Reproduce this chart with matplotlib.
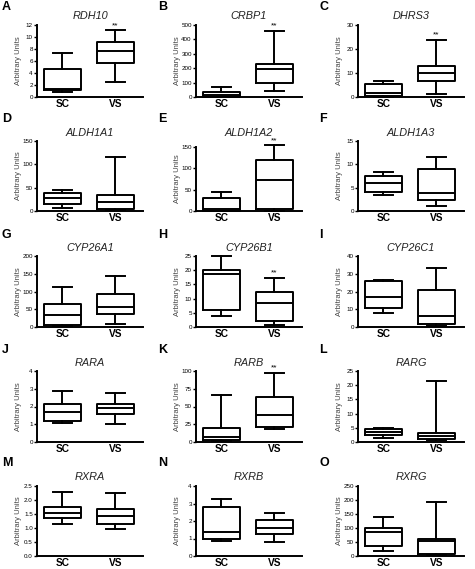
import matplotlib
matplotlib.use('Agg')
import matplotlib.pyplot as plt
import numpy as np

plt.rcParams['font.family'] = ['Liberation Sans', 'DejaVu Sans']

# gene panels, read row by row
genes = ['RDH10', 'CRBP1', 'DHRS3',
         'ALDH1A1', 'ALDH1A2', 'ALDH1A3',
         'CYP26A1', 'CYP26B1', 'CYP26C1',
         'RARA', 'RARB', 'RARG',
         'RXRA', 'RXRB', 'RXRG']
letters = list('ABCDEFGHIJKLMNO')
groups = ['SC', 'VS']

y_top = [12, 500, 30, 150, 150, 15, 200, 25, 40, 4, 100, 25, 2.5, 4, 250]
y_step = [2, 100, 10, 50, 50, 5, 50, 5, 10, 1, 25, 5, 0.5, 1, 50]

# [whisker low, Q1, median, Q3, whisker high]
sc_box = [
    [0.9, 1.1, 1.4, 4.6, 7.4],
    [0, 3, 15, 38, 70],
    [0.2, 0.5, 1.5, 5.3, 6.6],
    [7, 14, 28.5, 38.5, 44],
    [0.3, 1, 4, 30, 44],
    [3.5, 4.1, 6.1, 7.5, 8.3],
    [2, 5, 33, 64, 113],
    [4, 6, 18.6, 20.2, 24.9],
    [8.1, 10.8, 17, 26, 26.5],
    [1.09, 1.18, 1.71, 2.16, 2.9],
    [1, 3, 7, 20, 66],
    [1.5, 2.35, 3.5, 4.7, 5.0],
    [1.13, 1.37, 1.53, 1.74, 2.28],
    [0.88, 0.95, 1.38, 2.79, 3.27],
    [17, 35, 84, 99, 140],
]
vs_box = [
    [2.45, 5.75, 7.6, 9.2, 11.1],
    [42, 98, 193, 228, 460],
    [1.4, 6.7, 10.2, 13, 23.7],
    [1.4, 4.3, 20, 34, 116],
    [1, 4, 72, 120, 154],
    [1.05, 2.3, 3.9, 9.0, 11.6],
    [9.5, 38, 56, 92, 144],
    [0.85, 2.2, 8.3, 12.4, 17.4],
    [0.6, 1.9, 6.2, 20.8, 33],
    [1.0, 1.56, 1.93, 2.12, 2.78],
    [19, 21, 37.5, 63, 97.7],
    [0.6, 1.2, 2.1, 3.3, 21.5],
    [0.98, 1.16, 1.43, 1.69, 2.24],
    [0.82, 1.27, 1.59, 2.04, 2.43],
    [3.5, 8, 52, 61, 193],
]
vs_star = [True, True, True, False, True, False,
           False, True, False, False, True, False,
           False, False, False]

W, H = 475, 569
fig = plt.figure(figsize=(W / 100, H / 100), dpi=100)

col_left = [37, 196, 358]
row_top = [25, 141, 256, 371, 486]
row_bottom = [97, 211, 327, 442, 556]
title_y = [16, 133, 248, 363, 477]
ax_w = 106
letter_x = [2, 158, 319]
letter_y = [1, 113, 229, 344, 457]
# ALDH1A2 axis is shorter (whisker runs past its top tick)
top_shift = {4: 6}

lw = 1.4
keys = ['whislo', 'q1', 'med', 'q3', 'whishi']

for i, gene in enumerate(genes):
    r, c = divmod(i, 3)
    top = row_top[r] + top_shift.get(i, 0)
    h = row_bottom[r] - top
    ax = fig.add_axes([col_left[c] / W, 1 - row_bottom[r] / H,
                       ax_w / W, h / H])
    stats = []
    for name, vals in zip(groups, [sc_box[i], vs_box[i]]):
        d = dict(zip(keys, vals))
        d['fliers'] = []
        d['label'] = name
        stats.append(d)
    arts = ax.bxp(stats, positions=[1, 2], widths=0.7, capwidths=0.35,
                  showfliers=False,
                  boxprops=dict(color='black', lw=lw),
                  whiskerprops=dict(color='black', lw=lw),
                  capprops=dict(color='black', lw=lw),
                  medianprops=dict(color='black', lw=lw))
    for k in arts:
        for a in arts[k]:
            a.set_clip_on(False)

    ax.set_xlim(0.52, 2.52)
    ax.set_ylim(0, y_top[i])
    ticks = np.arange(0, y_top[i] + y_step[i] / 2, y_step[i])
    ax.set_yticks(ticks)
    if y_step[i] < 1:
        ax.set_yticklabels([f'{t:.1f}' for t in ticks])
    else:
        ax.set_yticklabels([f'{t:g}' for t in ticks])
    ax.tick_params(axis='y', labelsize=4.5, length=2, width=1, pad=1)
    ax.tick_params(axis='x', length=0, pad=1.2)
    for lab in ax.get_xticklabels():
        lab.set_fontsize(7.3)
        lab.set_fontweight('bold')

    for s in ['top', 'right']:
        ax.spines[s].set_visible(False)
    for s in ['left', 'bottom']:
        ax.spines[s].set_linewidth(lw)

    ax.set_ylabel('Arbitrary Units', fontsize=5.5, color='#444444')
    ax.yaxis.set_label_coords(-15 / ax_w, 0.5)

    if vs_star[i]:
        ax.annotate('**', xy=(2, vs_box[i][4]), xytext=(0, 1),
                    textcoords='offset points', ha='center', va='bottom',
                    fontsize=6, annotation_clip=False)

    fig.text((col_left[c] + ax_w / 2) / W, 1 - title_y[r] / H, gene,
             fontsize=7.8, style='italic', color='#222222',
             ha='center', va='center')
    fig.text(letter_x[c] / W, 1 - letter_y[r] / H, letters[i],
             fontsize=9, fontweight='bold', ha='left', va='top')

fig.savefig('out.png', dpi=100)
